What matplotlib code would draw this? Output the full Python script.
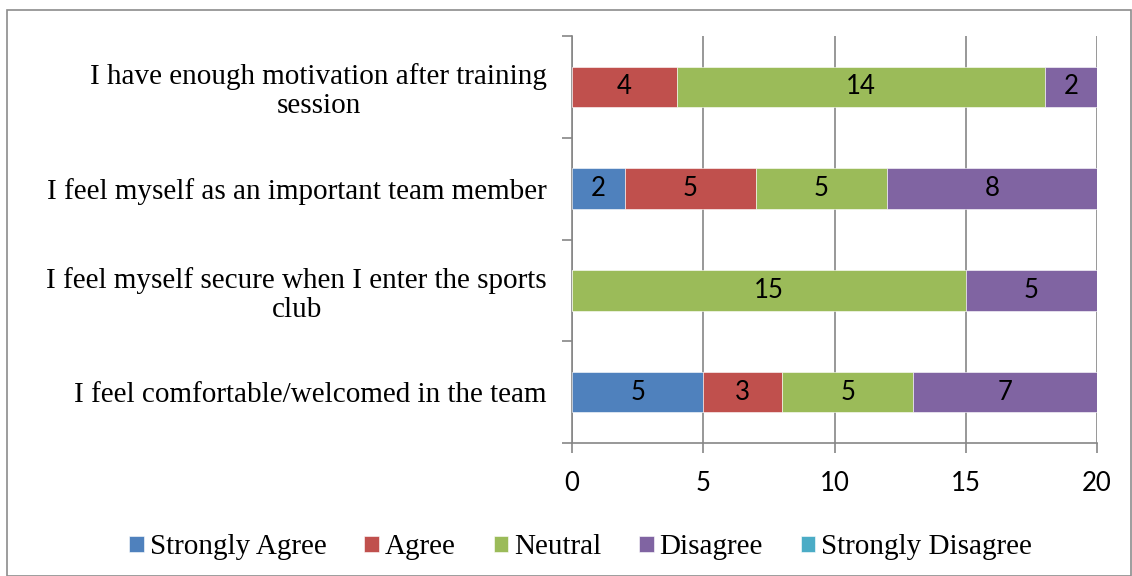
import numpy as np
import matplotlib.pyplot as plt
from matplotlib.patches import Rectangle

# survey statements (bottom to top)
questions = ["I feel comfortable/welcomed in the team",
             "I feel myself secure when I enter the sports\nclub",
             "I feel myself as an important team member",
             "I have enough motivation after training\nsession"]
responses = ["Strongly Agree", "Agree", "Neutral", "Disagree", "Strongly Disagree"]
strongly_agree = [5, 0, 2, 0]
agree = [3, 0, 5, 4]
neutral = [5, 15, 5, 14]
disagree = [7, 5, 8, 2]
strongly_disagree = [0, 0, 0, 0]
xticks = [0, 5, 10, 15, 20]

colors = ["#4F81BD", "#C0504D", "#9BBB59", "#8064A2", "#4BACC6"]
series = [strongly_agree, agree, neutral, disagree, strongly_disagree]

fig = plt.figure(figsize=(11.32, 5.76), dpi=100)
ax = fig.add_axes([0.5053, 0.2309, 0.4638, 0.7066])

# grey border around the whole chart
fig.patches.append(Rectangle((0.006, 0.0), 0.993, 0.983, transform=fig.transFigure,
                             fill=False, edgecolor="#8c8c8c", linewidth=1.2))

y = np.arange(len(questions))
left = np.zeros(len(questions))
for vals, col, name in zip(series, colors, responses):
    vals = np.array(vals, dtype=float)
    bars = ax.barh(y, vals, left=left, height=0.4, color=col, label=name,
                   edgecolor="white", linewidth=0.4, zorder=3)
    for b, v in zip(bars, vals):
        if v > 0:
            ax.text(b.get_x() + b.get_width() / 2, b.get_y() + b.get_height() / 2,
                    str(int(v)), ha="center", va="center", fontsize=18.5,
                    family="Lato", color="black", zorder=4)
    left += vals

ax.set_xlim(0, 20)
ax.set_ylim(-0.5, 3.5)
ax.set_xticks(xticks)
ax.set_xticklabels([str(t) for t in xticks], family="Lato", fontsize=18.5)
ax.set_yticks(y)
ax.set_yticklabels(questions, family="Liberation Serif", fontsize=21,
                   multialignment="center", linespacing=1.15)
ax.set_yticks(np.arange(-0.5, 4, 1), minor=True)
ax.tick_params(axis="y", which="major", length=0, pad=18)
ax.tick_params(axis="y", which="minor", length=7, color="#868686", width=1.2)
ax.tick_params(axis="x", length=7, color="#868686", width=1.2, pad=13)

ax.grid(axis="x", color="#868686", linewidth=1.2, zorder=0)
ax.set_axisbelow(True)
for s in ["top", "right"]:
    ax.spines[s].set_visible(False)
for s in ["left", "bottom"]:
    ax.spines[s].set_color("#868686")
    ax.spines[s].set_linewidth(1.2)

leg = fig.legend(loc="center", bbox_to_anchor=(0.513, 0.05), ncol=5, frameon=False,
                 prop={"family": "Liberation Serif", "size": 21},
                 handlelength=0.5, handleheight=0.5, handletextpad=0.2,
                 columnspacing=1.3)

plt.savefig("out.png", dpi=100)
